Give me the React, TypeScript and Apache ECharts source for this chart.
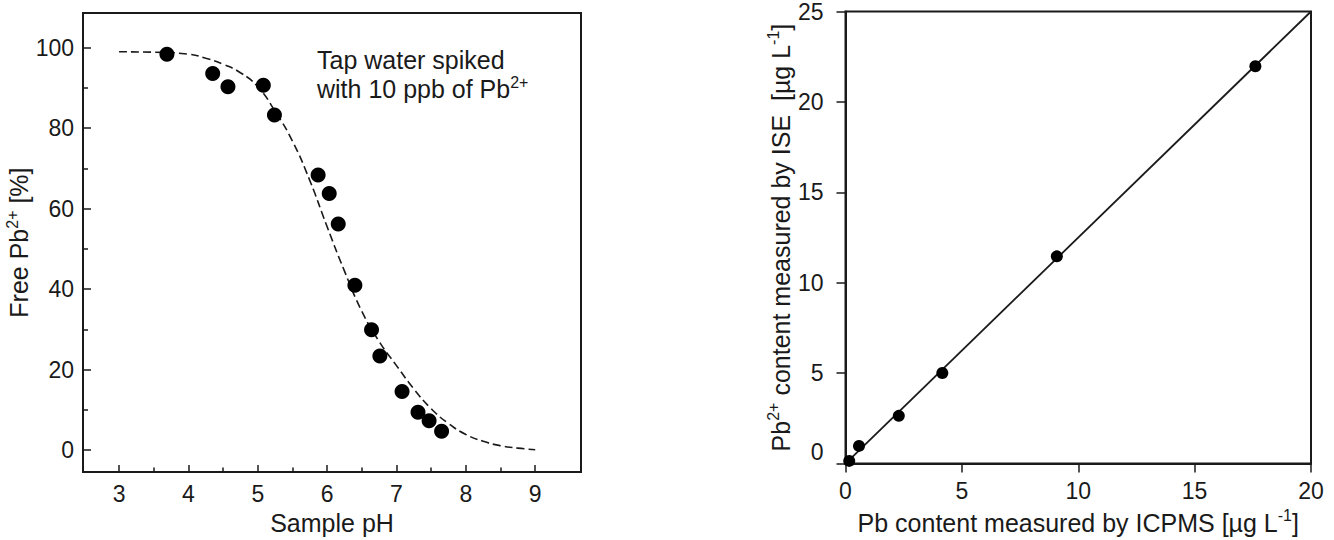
import React, { useEffect, useRef } from "react";
import * as echarts from "echarts";

// Left panel: free Pb2+ vs sample pH
const phValues = [3.69, 4.35, 4.57, 5.08, 5.24, 5.87, 6.03, 6.16, 6.4, 6.64, 6.76, 7.08, 7.31, 7.47, 7.65];
const freePb = [98.4, 93.6, 90.3, 90.7, 83.3, 68.4, 63.8, 56.2, 41.0, 29.9, 23.4, 14.6, 9.4, 7.3, 4.7];
const fitPh = [3.0, 3.5, 4.0, 4.25, 4.5, 4.75, 5.0, 5.25, 5.5, 5.75, 6.0, 6.25, 6.5, 6.75, 7.0, 7.25, 7.5, 7.75, 8.0, 8.25, 8.5, 8.75, 9.0];
const fitPb = [99.0, 98.9, 98.4, 97.4, 95.9, 93.8, 90.3, 84.2, 76.8, 67.0, 55.5, 44.5, 34.5, 27.0, 21.0, 15.2, 10.3, 6.6, 3.9, 2.2, 1.1, 0.5, 0.1];
const phTicks = [3, 4, 5, 6, 7, 8, 9];
const phMinorTicks = [3.5, 4.5, 5.5, 6.5, 7.5, 8.5];
const pbTicks = [0, 20, 40, 60, 80, 100];
const pbMinorTicks = [10, 30, 50, 70, 90];

// Right panel: ISE vs ICPMS
const icpms = [0.16, 0.58, 2.29, 4.16, 9.08, 17.61];
const ise = [0.15, 0.98, 2.64, 5.01, 11.46, 21.97];
const refLineX = [0, 20];
const refLineY = [0, 25];

const FONT = "'Liberation Sans', Arial, sans-serif";
const INK = "#1a1a1a";
const TICK_FS = 23;
const NAME_FS = 25;

export default function App() {
  const ref = useRef<HTMLDivElement>(null);

  useEffect(() => {
    if (!ref.current) return;
    const chart = echarts.init(ref.current, null, { renderer: "svg" });
    const supRich = {
      sup: { fontSize: 16, fontFamily: FONT, color: INK, verticalAlign: "top", lineHeight: 30 },
    };
    const option: any = {
      animation: false,
      backgroundColor: "#ffffff",
      textStyle: { fontFamily: FONT, color: INK },
      grid: [
        { left: 83, top: 13, width: 498, height: 466, show: true, borderColor: INK, borderWidth: 2 },
        { left: 845.5, top: 7.5, width: 465.5, height: 465.5, show: true, borderColor: INK, borderWidth: 2 },
      ],
      xAxis: [
        {
          gridIndex: 0,
          type: "value",
          position: "bottom",
          min: 2.48,
          max: 9.66,
          axisLine: { show: true, onZero: false, lineStyle: { color: INK, width: 2 } },
          axisTick: { show: true, inside: true, length: 7, customValues: phTicks, lineStyle: { color: INK, width: 1.5 } },
          axisLabel: { show: true, customValues: phTicks, margin: 10, fontSize: TICK_FS, color: INK, fontFamily: FONT },
          splitLine: { show: false },
          name: "Sample pH",
          nameLocation: "middle",
          nameGap: 33,
          nameTextStyle: { fontSize: NAME_FS, color: INK, fontFamily: FONT },
        },
        {
          gridIndex: 0,
          type: "value",
          position: "bottom",
          min: 2.48,
          max: 9.66,
          axisLine: { show: false, onZero: false },
          axisTick: { show: true, inside: true, length: 4.5, customValues: phMinorTicks, lineStyle: { color: INK, width: 1.5 } },
          axisLabel: { show: false, customValues: phMinorTicks },
          splitLine: { show: false },
        },
        {
          gridIndex: 1,
          type: "value",
          position: "bottom",
          min: 0,
          max: 20,
          interval: 5,
          axisLine: { show: true, onZero: false, lineStyle: { color: INK, width: 2 } },
          axisTick: { show: true, inside: false, length: 9, lineStyle: { color: INK, width: 1.5 } },
          axisLabel: { show: true, margin: 16, fontSize: TICK_FS, color: INK, fontFamily: FONT },
          splitLine: { show: false },
          name: "Pb content measured by ICPMS [µg L{sup|-1}]",
          nameLocation: "middle",
          nameGap: 39,
          nameTextStyle: { fontSize: NAME_FS, color: INK, fontFamily: FONT, rich: supRich },
        },
      ],
      yAxis: [
        {
          gridIndex: 0,
          type: "value",
          position: "left",
          min: -5.46,
          max: 108.64,
          axisLine: { show: true, onZero: false, lineStyle: { color: INK, width: 2 } },
          axisTick: { show: true, inside: true, length: 8, customValues: pbTicks, lineStyle: { color: INK, width: 1.5 } },
          axisLabel: { show: true, customValues: pbTicks, margin: 9, fontSize: TICK_FS, color: INK, fontFamily: FONT },
          splitLine: { show: false },
          name: "Free Pb{sup|2+} [%]",
          nameLocation: "middle",
          nameRotate: 90,
          nameGap: 42,
          nameTextStyle: { fontSize: NAME_FS, color: INK, fontFamily: FONT, rich: supRich },
        },
        {
          gridIndex: 0,
          type: "value",
          position: "left",
          min: -5.46,
          max: 108.64,
          axisLine: { show: false, onZero: false },
          axisTick: { show: true, inside: true, length: 5, customValues: pbMinorTicks, lineStyle: { color: INK, width: 1.5 } },
          axisLabel: { show: false, customValues: pbMinorTicks },
          splitLine: { show: false },
        },
        {
          gridIndex: 1,
          type: "value",
          position: "left",
          min: 0,
          max: 25,
          interval: 5,
          axisLine: { show: true, onZero: false, lineStyle: { color: INK, width: 2 } },
          axisTick: { show: true, inside: false, length: 9, lineStyle: { color: INK, width: 1.5 } },
          axisLabel: {
            show: true,
            margin: 22,
            fontSize: TICK_FS,
            color: INK,
            fontFamily: FONT,
            formatter: (v: number) => (v === 0 ? "{z|0}" : String(v)),
            rich: { z: { fontSize: TICK_FS, fontFamily: FONT, color: INK, padding: [0, 0, 24, 0] } },
          },
          splitLine: { show: false },
          name: "Pb{sup|2+} content measured by ISE  [µg L{sup|-1}]",
          nameLocation: "middle",
          nameRotate: 90,
          nameGap: 50,
          nameTextStyle: { fontSize: NAME_FS, color: INK, fontFamily: FONT, rich: supRich },
        },
      ],
      series: [
        {
          type: "line",
          xAxisIndex: 0,
          yAxisIndex: 0,
          data: fitPh.map((x, i) => [x, fitPb[i]]),
          smooth: true,
          showSymbol: false,
          symbol: "none",
          lineStyle: { color: INK, width: 1.6, type: [8, 4] },
          z: 2,
        },
        {
          type: "scatter",
          xAxisIndex: 0,
          yAxisIndex: 0,
          data: phValues.map((x, i) => [x, freePb[i]]),
          symbol: "circle",
          symbolSize: 15,
          itemStyle: { color: "#000", opacity: 1 },
          z: 3,
        },
        {
          type: "line",
          xAxisIndex: 2,
          yAxisIndex: 2,
          data: refLineX.map((x, i) => [x, refLineY[i]]),
          showSymbol: false,
          symbol: "none",
          lineStyle: { color: INK, width: 1.8 },
          z: 2,
        },
        {
          type: "scatter",
          xAxisIndex: 2,
          yAxisIndex: 2,
          data: icpms.map((x, i) => [x, ise[i]]),
          symbol: "circle",
          symbolSize: 12,
          itemStyle: { color: "#000", opacity: 1 },
          z: 3,
        },
      ],
      graphic: [
        {
          type: "text",
          left: 317,
          top: 45,
          style: {
            text: "Tap water spiked\nwith 10 ppb of Pb{sup|2+}",
            fontSize: NAME_FS,
            fontFamily: FONT,
            fill: INK,
            lineHeight: 29,
            rich: { sup: { fontSize: 16, fontFamily: FONT, fill: INK, verticalAlign: "top", lineHeight: 29 } },
          },
        },
      ],
    };
    chart.setOption(option);
    return () => chart.dispose();
  }, []);

  return (
    <div
      ref={ref}
      style={{ position: "absolute", left: 0, top: 0, width: 1334, height: 540, background: "#fff" }}
    />
  );
}
